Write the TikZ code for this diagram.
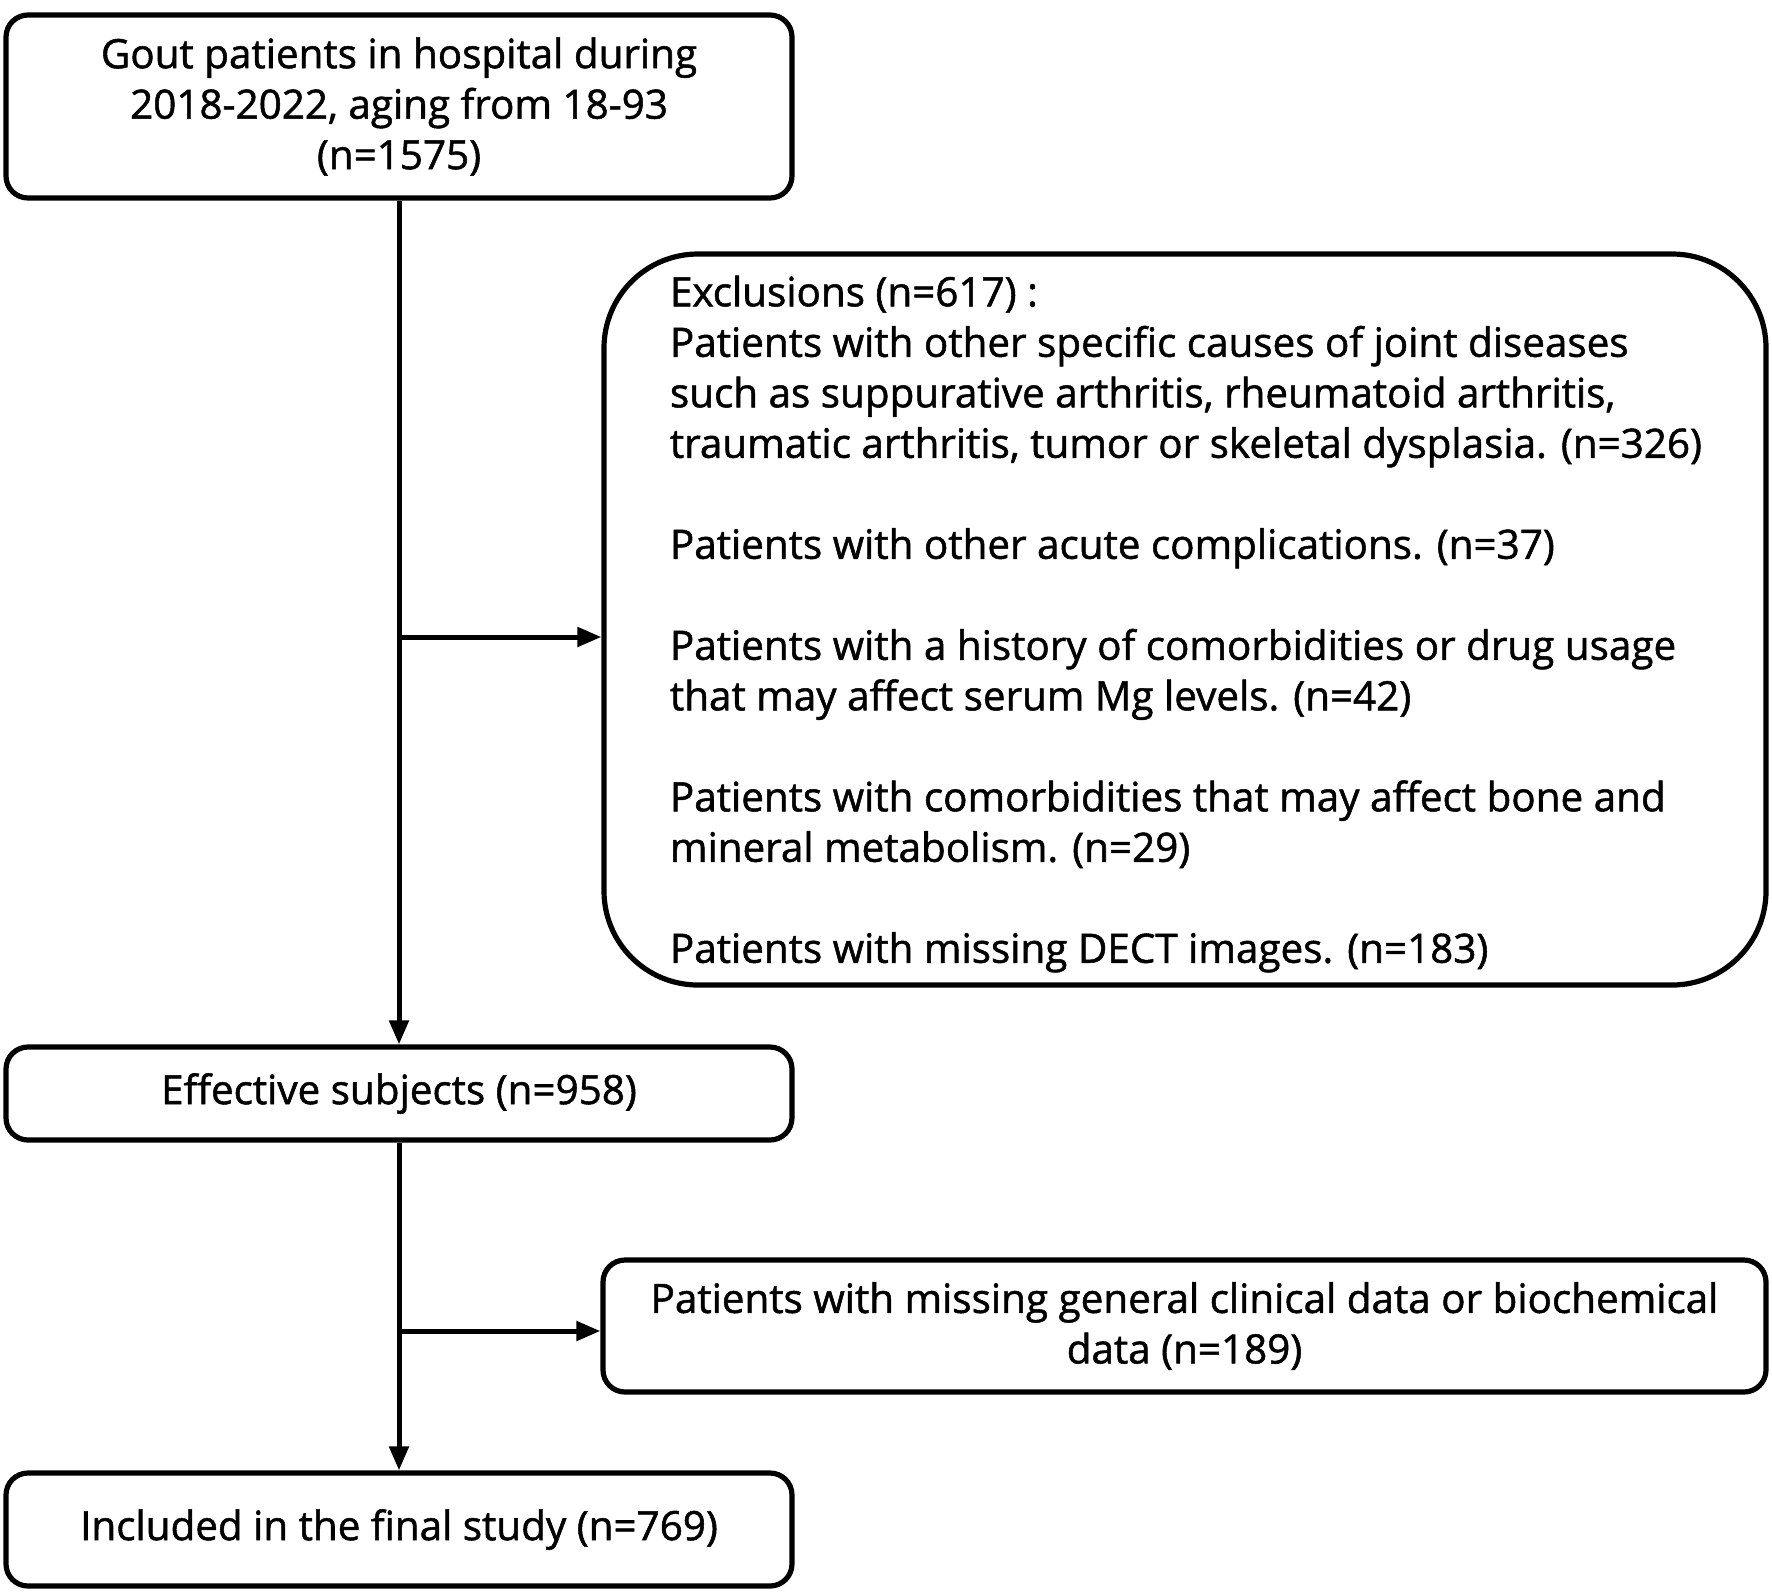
\documentclass[tikz,border=0pt]{standalone}
\usepackage{fontspec}
\setmainfont{Open Sans}[FakeBold=1.3]
\usetikzlibrary{arrows.meta}
\begin{document}
\begin{tikzpicture}[x=0.5pt,y=-0.5pt,
  box/.style={draw=black, line width=2.6pt, rounded corners=11pt, align=center, inner sep=0pt, font=\fontsize{20.2}{25.25}\selectfont},
  bigbox/.style={box, rounded corners=47pt},
  txt/.style={inner sep=0pt, align=left, font=\fontsize{20.2}{25.25}\selectfont},
  conn/.style={line width=2.5pt, -{Triangle[length=12pt,width=9.5pt]}}]
\useasboundingbox (0,0) rectangle (1772,1591);
\node[box, minimum width=393pt, minimum height=91.5pt] (top) at (399,106.5)
  {Gout patients in hospital during\\2018-2022, aging from 18-93\\(n=1575)};
\node[bigbox, minimum width=581pt, minimum height=365.5pt] (ex) at (1185,619.5) {};
\node[txt] (extext) at (1186,624)
  {Exclusions (n=617) :\\
   Patients with other specific causes of joint diseases\\
   such as suppurative arthritis, rheumatoid arthritis,\\
   traumatic arthritis, tumor or skeletal dysplasia. (n=326)\\[25.25pt]
   Patients with other acute complications. (n=37)\\[25.25pt]
   Patients with a history of comorbidities or drug usage\\
   that may affect serum Mg levels. (n=42)\\[25.25pt]
   Patients with comorbidities that may affect bone and\\
   mineral metabolism. (n=29)\\[25.25pt]
   Patients with missing DECT images. (n=183)};
\node[box, minimum width=393pt, minimum height=46.5pt] (eff) at (399,1093.5)
  {Effective subjects (n=958)};
\node[box, minimum width=581.5pt, minimum height=66pt] (mis) at (1184.5,1326)
  {Patients with missing general clinical data or biochemical\\data (n=189)};
\node[box, minimum width=393pt, minimum height=56.5pt] (fin) at (399,1529.5)
  {Included in the final study (n=769)};
\draw[conn] (top.south) -- (eff.north);
\coordinate (b1) at (399,637);
\draw[conn] (b1) -- (ex.west |- b1);
\draw[conn] (eff.south) -- (fin.north);
\coordinate (b2) at (399,1331);
\draw[conn] (b2) -- (mis.west |- b2);
\end{tikzpicture}
\end{document}
